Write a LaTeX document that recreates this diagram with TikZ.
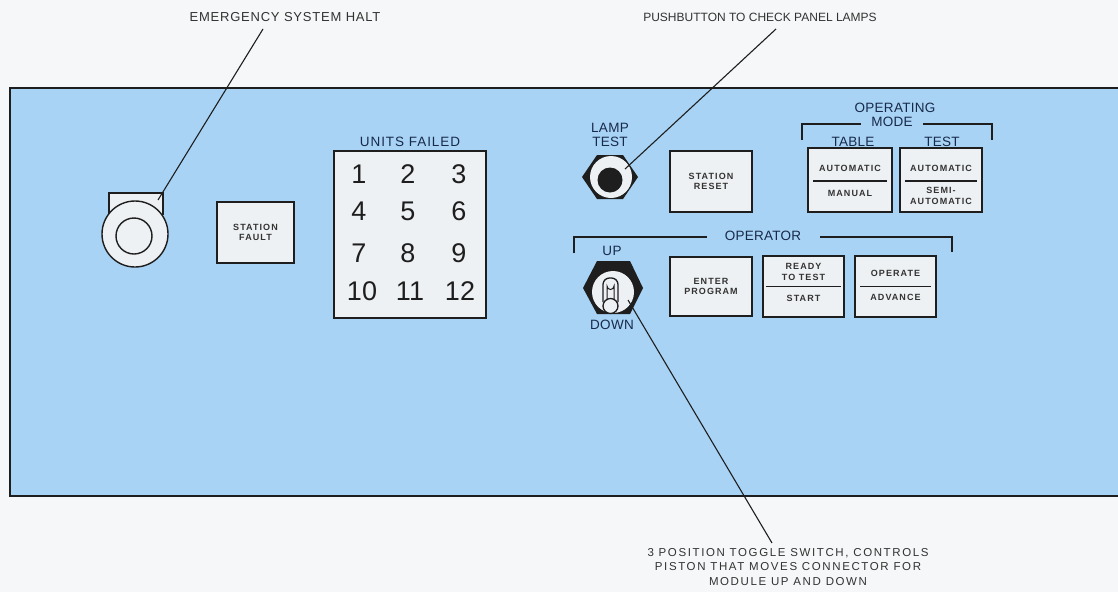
\documentclass[tikz,border=0pt]{standalone}
\usepackage{fontspec}
\setmainfont{Liberation Sans}
\newfontfamily\outf[LetterSpace=6]{Liberation Sans}
\newfontfamily\plainf{Liberation Sans}
\newfontfamily\botf[LetterSpace=14]{Liberation Sans}
\newfontfamily\btnf[LetterSpace=12]{Liberation Sans}
\newfontfamily\navf[LetterSpace=2]{Liberation Sans}
\newfontfamily\navwf[LetterSpace=7]{Liberation Sans}
\usetikzlibrary{calc}
\definecolor{panel}{RGB}{168,211,245}
\definecolor{paper}{RGB}{245,247,248}
\definecolor{keyfill}{RGB}{238,241,243}
\definecolor{navy}{RGB}{24,42,74}
\definecolor{ink}{RGB}{30,30,30}
\definecolor{grey}{RGB}{50,50,50}
\tikzset{
  outlab/.style={inner sep=0, text=grey, font={\outf\fontsize{13}{15}\selectfont}},
  outlabb/.style={inner sep=0, text=grey, font={\plainf\fontsize{12}{14}\selectfont}},
  botlab/.style={inner sep=0, text=grey, align=center, font={\botf\fontsize{11.5}{14.5}\selectfont}},
  navlab/.style={inner sep=0, text=navy, font={\navf\fontsize{13.5}{15}\selectfont}},
  keybox/.style={draw=ink, line width=1.8, fill=keyfill, inner sep=0},
  keytext/.style={inner sep=0, text=black!80, align=center, font={\btnf\bfseries\fontsize{9}{10.5}\selectfont}},
  digit/.style={inner sep=0, text=ink, font={\plainf\fontsize{27}{30}\selectfont}},
  leader/.style={draw=ink, line width=1.1},
  bracket/.style={draw=ink, line width=1.6},
  divider/.style={draw=ink, line width=1.4},
}
\begin{document}
\begin{tikzpicture}[x=1pt,y=-1pt]
\useasboundingbox (0,0) rectangle (1118,592);
\fill[paper] (0,0) rectangle (1118,592);
% panel
\fill[panel] (10,88) rectangle (1118,496);
\draw[line width=2, draw=ink] (1118,88) -- (10,88) -- (10,496) -- (1118,496);

% emergency halt button
\filldraw[draw=ink, line width=1.4, fill=keyfill] (109,215) -- (109,193) -- (163,193) -- (163,215);
\filldraw[draw=ink, line width=1.4, fill=keyfill] (135,234) circle[radius=33];
\draw[draw=ink, line width=1.4] (134,236) circle[radius=18];
\coordinate (haltpt) at (158,200);

% station fault
\node[keybox, minimum width=77, minimum height=61] (fault) at (255.5,232.5) {};
\node[keytext] (faultt) at (fault.center) {STATION\\FAULT};

% units failed
\node[navlab, font={\navwf\fontsize{13.5}{15}\selectfont}] (uflab) at (410,142) {UNITS FAILED};
\node[keybox, minimum width=152, minimum height=167] (units) at (410,234.5) {};
\node[digit] (d1) at (359,174) {1};
\node[digit] (d2) at (408,174) {2};
\node[digit] (d3) at (459,174) {3};
\node[digit] (d4) at (359,211) {4};
\node[digit] (d5) at (408,211) {5};
\node[digit] (d6) at (459,211) {6};
\node[digit] (d7) at (359,253) {7};
\node[digit] (d8) at (408,253) {8};
\node[digit] (d9) at (459,253) {9};
\node[digit] (d10) at (362,291) {10};
\node[digit] (d11) at (410,291) {11};
\node[digit] (d12) at (460,291) {12};

% lamp test
\node[navlab] (lamp1) at (610,128) {LAMP};
\node[navlab] (lamp2) at (610,142) {TEST};
\fill[ink] (638,177) -- (623,155) -- (597,155) -- (582,177) -- (597,199) -- (623,199) -- cycle;
\fill[keyfill] (611,177) circle[radius=21];
\fill[ink] (610,180) circle[radius=12.5];
\coordinate (lamppt) at (625,169);

% station reset
\node[keybox, minimum width=82, minimum height=61] (reset) at (711,181.5) {};
\node[keytext] (resett) at (reset.center) {STATION\\RESET};

% operating mode
\node[navlab] (om1) at (895,108) {OPERATING};
\node[navlab] (om2) at (892,122) {MODE};
\draw[bracket] (802,140) -- (802,124) -- (861,124);
\draw[bracket] (923,124) -- (992,124) -- (992,140);
\node[navlab] (tablelab) at (853,142) {TABLE};
\node[navlab] (testlab) at (942,142) {TEST};
\node[keybox, minimum width=84, minimum height=64] (table) at (850,180) {};
\node[keybox, minimum width=82, minimum height=64] (test) at (941,180) {};
\draw[divider] ($(table.west)+(6,1)$) -- ($(table.east)+(-6,1)$);
\draw[divider] ($(test.west)+(6,1)$) -- ($(test.east)+(-6,1)$);
\node[keytext] (ta) at (850,168) {AUTOMATIC};
\node[keytext] (tm) at (850,193) {MANUAL};
\node[keytext] (sa) at (941,168) {AUTOMATIC};
\node[keytext] (ss) at (941,196) {SEMI-\\AUTOMATIC};

% operator
\node[navlab] (oplab) at (763,236) {OPERATOR};
\draw[bracket] (574,253) -- (574,237) -- (707,237);
\draw[bracket] (820,237) -- (952,237) -- (952,252);

% toggle switch
\node[navlab] (up) at (612,251) {UP};
\node[navlab] (down) at (612,325) {DOWN};
\fill[ink] (643,288) -- (630,261) -- (597,261) -- (583,288) -- (597,314) -- (630,314) -- cycle;
\fill[keyfill] (613,292) circle[radius=21];
\filldraw[draw=ink, line width=1.3, fill=keyfill, rounded corners=6.5] (603,302) -- (603,278) -- (618,278) -- (618,302);
\filldraw[draw=ink, line width=1.3, fill=keyfill] (610.5,306) circle[radius=7.5];
\draw[draw=ink, line width=1] (607,300) -- (607,286) arc[start angle=180, end angle=360, x radius=3.5, y radius=-3.5] -- (614,300);
\coordinate (togpt) at (628,300);

% operator keys
\node[keybox, minimum width=82, minimum height=59] (enter) at (711,286.5) {};
\node[keytext] (entert) at (enter.center) {ENTER\\PROGRAM};
\node[keybox, minimum width=81, minimum height=61] (ready) at (803.5,286.5) {};
\draw[divider] ($(ready.west)+(4,0)$) -- ($(ready.east)+(-4,0)$);
\node[keytext] (readyt) at (803.5,272) {READY\\TO TEST};
\node[keytext] (startt) at (803.5,298) {START};
\node[keybox, minimum width=81, minimum height=61] (operate) at (895.5,286.5) {};
\draw[divider] ($(operate.west)+(6,0)$) -- ($(operate.east)+(-6,0)$);
\node[keytext] (opt) at (895.5,273) {OPERATE};
\node[keytext] (advt) at (895.5,297) {ADVANCE};

% callouts
\node[outlab] (halt) at (285,17) {EMERGENCY SYSTEM HALT};
\node[outlabb] (pbt) at (760,17) {PUSHBUTTON TO CHECK PANEL LAMPS};
\node[botlab] (tog) at (788,567) {3 POSITION TOGGLE SWITCH, CONTROLS\\PISTON THAT MOVES CONNECTOR FOR\\MODULE UP AND DOWN};
\coordinate (haltA) at (263,29);
\coordinate (pbtA) at (776,29);
\coordinate (togA) at (772,543);
\draw[leader] (haltA) -- (haltpt);
\draw[leader] (pbtA) -- (lamppt);
\draw[leader] (togA) -- (togpt);
\end{tikzpicture}
\end{document}
